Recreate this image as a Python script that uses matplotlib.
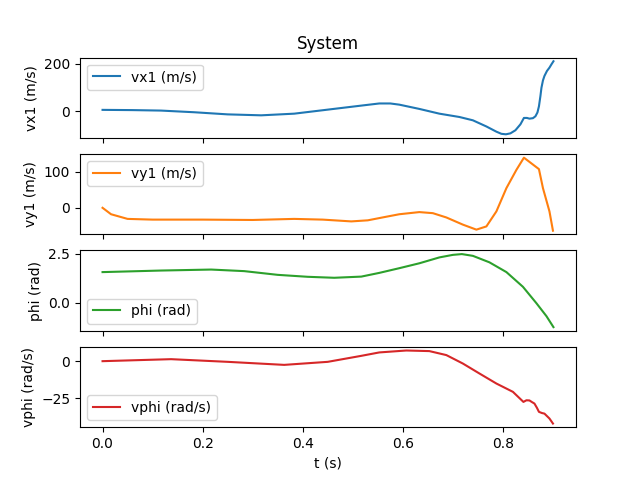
import matplotlib
matplotlib.use('Agg')
import matplotlib.pyplot as plt

# values
t_vx1 = [0.0, 0.06, 0.117, 0.183, 0.25, 0.317, 0.383, 0.45, 0.517, 0.553, 0.575, 0.593,
         0.633, 0.673, 0.713, 0.74, 0.767, 0.787, 0.797, 0.806, 0.815, 0.825, 0.835, 0.842,
         0.848, 0.853, 0.86, 0.865, 0.869, 0.872, 0.875, 0.877, 0.88, 0.883, 0.888, 0.893,
         0.897, 0.901]
vx1 = [6, 5, 3, -4, -13, -17, -10, 7, 24, 33, 33, 28, 10, -10, -24, -38, -64, -86, -95, -97,
       -93, -80, -55, -28, -28, -31, -29, -21, -5, 21, 65, 99, 130, 149, 170, 184, 198, 211]

t_vy1 = [0.0, 0.017, 0.05, 0.1, 0.2, 0.3, 0.383, 0.44, 0.497, 0.53, 0.563, 0.593, 0.633,
         0.66, 0.687, 0.72, 0.747, 0.767, 0.787, 0.807, 0.827, 0.842, 0.857, 0.872, 0.88,
         0.893, 0.9]
vy1 = [0, -18, -31, -33, -33, -34, -31, -33, -38, -35, -26, -18, -12, -15, -27, -47, -61, -52,
       -10, 55, 106, 140, 124, 108, 55, -10, -64]

t_phi = [0.0, 0.117, 0.217, 0.283, 0.35, 0.41, 0.463, 0.517, 0.553, 0.593, 0.633, 0.673,
         0.7, 0.718, 0.74, 0.773, 0.807, 0.84, 0.867, 0.887, 0.901]
phi = [1.57, 1.65, 1.7, 1.62, 1.43, 1.33, 1.28, 1.34, 1.53, 1.77, 2.02, 2.32, 2.45, 2.49,
       2.4, 2.07, 1.57, 0.82, -0.02, -0.68, -1.24]

t_vphi = [0.0, 0.137, 0.25, 0.363, 0.45, 0.517, 0.553, 0.607, 0.653, 0.687, 0.72, 0.753,
          0.787, 0.82, 0.841, 0.847, 0.853, 0.858, 0.863, 0.868, 0.872, 0.878, 0.883, 0.893,
          0.9]
vphi = [0, 1.35, -0.45, -2.5, -0.45, 3.6, 5.9, 7.2, 6.8, 4.1, -1.6, -8.3, -15.1, -20.7,
        -27.5, -26.4, -26.5, -27.6, -28.6, -31.5, -34.2, -35, -35.4, -38.7, -42.1]

fig, axs = plt.subplots(4, 1, sharex=True)

axs[0].plot(t_vx1, vx1, color='C0', label='vx1 (m/s)')
axs[0].set_ylabel('vx1 (m/s)')
axs[0].legend(loc='upper left')
axs[0].set_title('System')

axs[1].plot(t_vy1, vy1, color='C1', label='vy1 (m/s)')
axs[1].set_ylabel('vy1 (m/s)')
axs[1].legend(loc='upper left')

axs[2].plot(t_phi, phi, color='C2', label='phi (rad)')
axs[2].set_ylabel('phi (rad)')
axs[2].legend(loc='lower left')

axs[3].plot(t_vphi, vphi, color='C3', label='vphi (rad/s)')
axs[3].set_ylabel('vphi (rad/s)')
axs[3].legend(loc='lower left')
axs[3].set_xlabel('t (s)')

plt.savefig('out.png', dpi=100)
